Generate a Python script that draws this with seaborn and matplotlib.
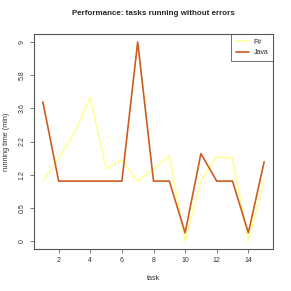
import numpy as np
import pandas as pd
import seaborn as sns
import matplotlib
matplotlib.use('Agg')
import matplotlib.pyplot as plt

# running time per task
tasks = list(range(1, 16))
fsharp = [1.0, 1.6, 2.5, 4.25, 1.3, 1.55, 1.0, 1.3, 1.7, 0.0, 1.0, 1.65, 1.6, 0.0, 1.0]
java = [4.0, 1.0, 1.0, 1.0, 1.0, 1.0, 9.0, 1.0, 1.0, 0.1, 1.75, 1.0, 1.0, 0.1, 1.5]
ytick_vals = [0, 0.5, 1.2, 2.2, 3.6, 5.8, 9]
xtick_vals = [2, 4, 6, 8, 10, 12, 14]

df = pd.DataFrame({'task': tasks * 2,
                   'time': fsharp + java,
                   'lang': ['F#'] * len(tasks) + ['Java'] * len(tasks)})

sns.set_style('white')
plt.rcParams['font.family'] = ['Liberation Sans', 'DejaVu Sans']

fig = plt.figure(figsize=(2.91, 2.91), dpi=100)
ax = fig.add_axes([34 / 291, 1 - 249 / 291, (273 - 34) / 291, (249 - 34) / 291])

# log(y+1) axis like the original
ax.set_yscale('function', functions=(lambda v: np.log10(np.clip(v, -0.99, None) + 1),
                                     lambda v: 10 ** v - 1))

sns.lineplot(data=df, x='task', y='time', hue='lang',
             palette={'F#': '#FFFF99', 'Java': '#CC5C1F'},
             linewidth=1.2, ax=ax)

ax.set_xlim(0.44, 15.56)
ax.set_ylim(10 ** -0.04 - 1, 10 ** 1.04 - 1)

ax.set_xticks(xtick_vals)
ax.set_xticklabels([str(v) for v in xtick_vals], fontsize=5, color='#333333')
ypos = [10 ** (k / 6) - 1 for k in range(7)]
ax.set_yticks(ypos)
ax.set_yticklabels([str(v) for v in ytick_vals], fontsize=5, color='#333333',
                   rotation=90, va='center')
ax.minorticks_off()
ax.tick_params(axis='both', length=3, width=0.5, color='#444444', pad=3, left=True, bottom=True)

for s in ax.spines.values():
    s.set_color('#555555')
    s.set_linewidth(0.8)

ax.set_xlabel('task', fontsize=5.2, color='#333333', labelpad=8)
ax.set_ylabel('running time (min)', fontsize=5.2, color='#333333', labelpad=6)
ax.set_title('Performance: tasks running without errors', fontsize=5.8,
             fontweight='bold', pad=14)

leg = ax.legend(loc='upper right', fontsize=5, frameon=True, fancybox=False,
                borderaxespad=0, handlelength=1.9, handletextpad=0.6,
                borderpad=0.7, labelspacing=0.5)
leg.get_frame().set_edgecolor('#333333')
leg.get_frame().set_linewidth(0.6)

fig.savefig('out.png', dpi=100)
